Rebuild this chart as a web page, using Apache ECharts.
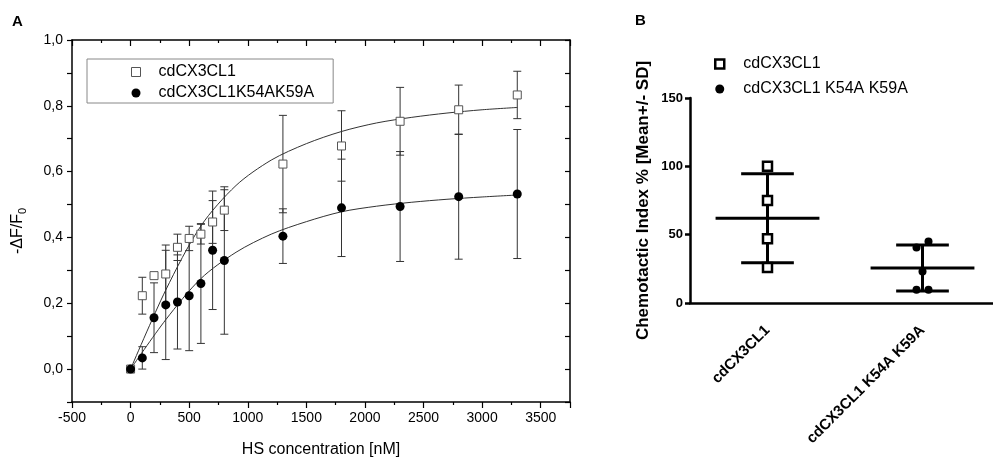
<!DOCTYPE html>
<html>
<head>
<meta charset="utf-8">
<script src="https://cdn.jsdelivr.net/npm/echarts@6/dist/echarts.min.js"></script>
<style>
  html, body { margin: 0; padding: 0; background: #fff; overflow: hidden; }
  /* chart is a few px wider than the window so panel B's axis runs off the edge */
  #main { width: 1000px; height: 463px; }
</style>
</head>
<body>
<div id="main"></div>
<script>
'use strict';
// ---- Panel A: -dF/F0 vs HS concentration ----
var conc   = [0, 100, 200, 300, 400, 500, 600, 700, 800, 1300, 1800, 2300, 2800, 3300];
var wtMean = [0, 0.223, 0.284, 0.289, 0.370, 0.397, 0.410, 0.447, 0.483, 0.623, 0.678, 0.753, 0.788, 0.833];
var wtSD   = [0, 0.056, 0.006, 0.088, 0.040, 0.037, 0.030, 0.065, 0.062, 0.148, 0.107, 0.103, 0.075, 0.072];
var mutMean = [0, 0.034, 0.156, 0.195, 0.204, 0.223, 0.260, 0.361, 0.330, 0.404, 0.490, 0.494, 0.524, 0.532];
var mutSD   = [0, 0.034, 0.106, 0.166, 0.143, 0.167, 0.182, 0.180, 0.224, 0.083, 0.148, 0.167, 0.190, 0.196];
// fitted curves
var fitX   = [0, 300, 600, 900, 1200, 1500, 1800, 2100, 2400, 2700, 3000, 3300];
var wtFit  = [0, 0.240, 0.435, 0.558, 0.635, 0.685, 0.722, 0.748, 0.765, 0.778, 0.788, 0.795];
var mutFit = [0, 0.150, 0.275, 0.355, 0.410, 0.448, 0.478, 0.495, 0.507, 0.516, 0.523, 0.529];
var nameA1 = 'cdCX3CL1';
var nameA2 = 'cdCX3CL1K54AK59A';

// ---- Panel B: chemotactic index ----
var groupsB = ['cdCX3CL1', 'cdCX3CL1 K54A K59A'];
var wtIndex  = [100, 75, 47, 26];
var mutIndex = [40.6, 45, 23, 9.7, 9.7];
var meanB = [62, 25.6];
var sdB   = [32.5, 16.8];

var FONT = 'Liberation Sans, Arial, sans-serif';

function zip(xs, ys) {
  return xs.map(function (x, i) { return [x, ys[i]]; });
}
function errData(xs, m, s) {
  return xs.map(function (x, i) { return [x, m[i] - s[i], m[i] + s[i]]; });
}

function renderErr(params, api) {
  var x = api.value(0), lo = api.value(1), hi = api.value(2);
  if (hi - lo <= 0) return;
  var p1 = api.coord([x, hi]), p2 = api.coord([x, lo]);
  var w = 4;
  var st = { stroke: '#333', lineWidth: 1 };
  return {
    type: 'group',
    children: [
      { type: 'line', shape: { x1: p1[0], y1: p1[1], x2: p2[0], y2: p2[1] }, style: st },
      { type: 'line', shape: { x1: p1[0] - w, y1: p1[1], x2: p1[0] + w, y2: p1[1] }, style: st },
      { type: 'line', shape: { x1: p2[0] - w, y1: p2[1], x2: p2[0] + w, y2: p2[1] }, style: st }
    ]
  };
}

function renderMeanSd(params, api) {
  var c = api.value(0), m = api.value(1), s = api.value(2);
  var mid = api.coord([c, m]);
  var top = api.coord([c, m + s]);
  var bot = api.coord([c, m - s]);
  var band = api.size([1, 0])[0];
  var hw = band * 0.335, cw = band * 0.17;
  var st = { stroke: '#000', lineWidth: 3 };
  return {
    type: 'group',
    children: [
      { type: 'line', shape: { x1: mid[0] - hw, y1: mid[1], x2: mid[0] + hw, y2: mid[1] }, style: st },
      { type: 'line', shape: { x1: top[0], y1: top[1], x2: bot[0], y2: bot[1] }, style: st },
      { type: 'line', shape: { x1: top[0] - cw, y1: top[1], x2: top[0] + cw, y2: top[1] }, style: st },
      { type: 'line', shape: { x1: bot[0] - cw, y1: bot[1], x2: bot[0] + cw, y2: bot[1] }, style: st }
    ]
  };
}

function fmtComma(v) {
  if (Math.abs(Math.round(v * 10)) % 2 !== 0) return '';
  return v.toFixed(1).replace('.', ',');
}

var jitter = [-6, 6, 0, -6, 6];
var mutPoints = mutIndex.map(function (v, i) {
  return { value: [1, v], symbolOffset: [jitter[i], 0] };
});

var chart = echarts.init(document.getElementById('main'));
var option = {
  animation: false,
  backgroundColor: '#fff',
  textStyle: { fontFamily: FONT, color: '#000' },
  graphic: [
    { type: 'text', left: 12, top: 14, style: { text: 'A', fontSize: 15, fontWeight: 'bold', fontFamily: FONT, fill: '#000' } },
    { type: 'text', left: 635, top: 13, style: { text: 'B', fontSize: 15, fontWeight: 'bold', fontFamily: FONT, fill: '#000' } }
  ],
  legend: [
    {
      left: 87, top: 59, orient: 'vertical',
      padding: [5, 19, 2, 44],
      itemWidth: 9, itemHeight: 9, itemGap: 5,
      borderColor: '#888', borderWidth: 1,
      selectedMode: false,
      textStyle: { fontSize: 16, fontFamily: FONT, color: '#000', padding: [0, 0, 0, 13] },
      data: [
        { name: nameA1, icon: 'rect', itemStyle: { color: '#fff', borderColor: '#555', borderWidth: 1 } },
        { name: nameA2, icon: 'circle', itemStyle: { color: '#000', borderWidth: 0 } }
      ]
    },
    {
      left: 714, top: 56, orient: 'vertical',
      padding: 0,
      itemWidth: 9, itemHeight: 9, itemGap: 9,
      selectedMode: false,
      textStyle: { fontSize: 16, fontFamily: FONT, color: '#000', padding: [0, 0, 0, 14] },
      data: [
        { name: groupsB[0], icon: 'rect', itemStyle: { color: '#fff', borderColor: '#000', borderWidth: 2.5 } },
        { name: groupsB[1], icon: 'circle', itemStyle: { color: '#000', borderWidth: 0 } }
      ]
    }
  ],
  grid: [
    { left: 72, right: 430, top: 40, bottom: 58 },
    { left: 690, right: 0, top: 98, bottom: 160 }
  ],
  xAxis: [
    {
      gridIndex: 0, type: 'value', min: -500, max: 3750, interval: 500,
      name: 'HS concentration [nM]', nameLocation: 'middle', nameGap: 40,
      nameTextStyle: { fontSize: 16, fontFamily: FONT, color: '#000' },
      axisLine: { onZero: false, lineStyle: { color: '#000', width: 1.5 } },
      axisTick: { length: 6, lineStyle: { color: '#000', width: 1.2 } },
      minorTick: { show: true, splitNumber: 2, length: 3, lineStyle: { color: '#000', width: 1.2 } },
      axisLabel: {
        fontSize: 14, color: '#000', margin: 9, showMaxLabel: false, fontFamily: FONT,
        formatter: function (v) { return String(v); }
      },
      splitLine: { show: false }
    },
    {
      gridIndex: 0, type: 'value', position: 'top', min: -500, max: 3750, interval: 500,
      axisLine: { onZero: false, lineStyle: { color: '#000', width: 1.5 } },
      axisTick: { inside: true, length: 6, lineStyle: { color: '#000', width: 1.2 } },
      minorTick: { show: true, splitNumber: 2, length: 3, lineStyle: { color: '#000', width: 1.2 } },
      axisLabel: { show: false },
      splitLine: { show: false }
    },
    {
      gridIndex: 1, type: 'category', data: groupsB, boundaryGap: true,
      axisLine: { onZero: false, lineStyle: { color: '#000', width: 2.5 } },
      axisTick: { alignWithLabel: true, length: 6, lineStyle: { color: '#000', width: 2.5 } },
      axisLabel: { rotate: 45, fontSize: 15, fontWeight: 'bold', color: '#000', margin: 25, fontFamily: FONT }
    }
  ],
  yAxis: [
    {
      gridIndex: 0, type: 'value', min: -0.1, max: 1.0, interval: 0.1,
      name: '-ΔF/F{sub|0}', nameLocation: 'middle', nameGap: 44,
      nameTextStyle: {
        fontSize: 16, fontFamily: FONT, color: '#000', padding: [0, 20, 0, 0],
        rich: { sub: { fontSize: 11, fontFamily: FONT, padding: [9, 0, 0, 0] } }
      },
      axisLine: { onZero: false, lineStyle: { color: '#000', width: 1.5 } },
      axisTick: { length: 5, lineStyle: { color: '#000', width: 1.2 } },
      axisLabel: { fontSize: 14, color: '#000', margin: 9, formatter: fmtComma, fontFamily: FONT },
      splitLine: { show: false }
    },
    {
      gridIndex: 0, type: 'value', position: 'right', min: -0.1, max: 1.0, interval: 0.1,
      axisLine: { show: true, onZero: false, lineStyle: { color: '#000', width: 1.5 } },
      axisTick: { show: true, inside: true, length: 5, lineStyle: { color: '#000', width: 1.2 } },
      axisLabel: { show: false },
      splitLine: { show: false }
    },
    {
      gridIndex: 1, type: 'value', min: 0, max: 150, interval: 50,
      name: 'Chemotactic Index % [Mean+/- SD]', nameLocation: 'middle', nameGap: 38,
      nameTextStyle: { fontSize: 17, fontWeight: 'bold', fontFamily: FONT, color: '#000' },
      axisLine: { show: true, onZero: false, lineStyle: { color: '#000', width: 2.5 } },
      axisTick: { show: true, length: 5, lineStyle: { color: '#000', width: 2.5 } },
      axisLabel: { fontSize: 13, fontWeight: 'bold', color: '#000', margin: 7, fontFamily: FONT },
      splitLine: { show: false }
    }
  ],
  series: [
    // panel A error bars
    {
      type: 'custom', xAxisIndex: 0, yAxisIndex: 0, renderItem: renderErr,
      encode: { x: 0, y: [1, 2] }, data: errData(conc, wtMean, wtSD), z: 1
    },
    {
      type: 'custom', xAxisIndex: 0, yAxisIndex: 0, renderItem: renderErr,
      encode: { x: 0, y: [1, 2] }, data: errData(conc, mutMean, mutSD), z: 1
    },
    // fitted curves
    {
      type: 'line', xAxisIndex: 0, yAxisIndex: 0, data: zip(fitX, wtFit),
      showSymbol: false, smooth: 0.3,
      lineStyle: { color: '#333', width: 1 }, z: 2, silent: true
    },
    {
      type: 'line', xAxisIndex: 0, yAxisIndex: 0, data: zip(fitX, mutFit),
      showSymbol: false, smooth: 0.3,
      lineStyle: { color: '#333', width: 1 }, z: 2, silent: true
    },
    // points
    {
      name: nameA1, type: 'scatter', xAxisIndex: 0, yAxisIndex: 0,
      data: zip(conc, wtMean), symbol: 'rect', symbolSize: 8,
      itemStyle: { color: '#fff', borderColor: '#555', borderWidth: 1, opacity: 1 }, z: 3
    },
    {
      name: nameA2, type: 'scatter', xAxisIndex: 0, yAxisIndex: 0,
      data: zip(conc, mutMean), symbol: 'circle', symbolSize: 9,
      itemStyle: { color: '#000', opacity: 1 }, z: 4
    },
    // panel B mean +/- SD
    {
      type: 'custom', xAxisIndex: 2, yAxisIndex: 2, renderItem: renderMeanSd,
      encode: { x: 0, y: 1 },
      data: meanB.map(function (m, i) { return [i, m, sdB[i]]; }), z: 1
    },
    {
      name: groupsB[0], type: 'scatter', xAxisIndex: 2, yAxisIndex: 2,
      data: wtIndex.map(function (v) { return [0, v]; }),
      symbol: 'rect', symbolSize: 9,
      itemStyle: { color: '#fff', borderColor: '#000', borderWidth: 2.5, opacity: 1 }, z: 3
    },
    {
      name: groupsB[1], type: 'scatter', xAxisIndex: 2, yAxisIndex: 2,
      data: mutPoints, symbol: 'circle', symbolSize: 8,
      itemStyle: { color: '#000', opacity: 1 }, z: 3
    }
  ]
};
chart.setOption(option);
</script>
</body>
</html>
